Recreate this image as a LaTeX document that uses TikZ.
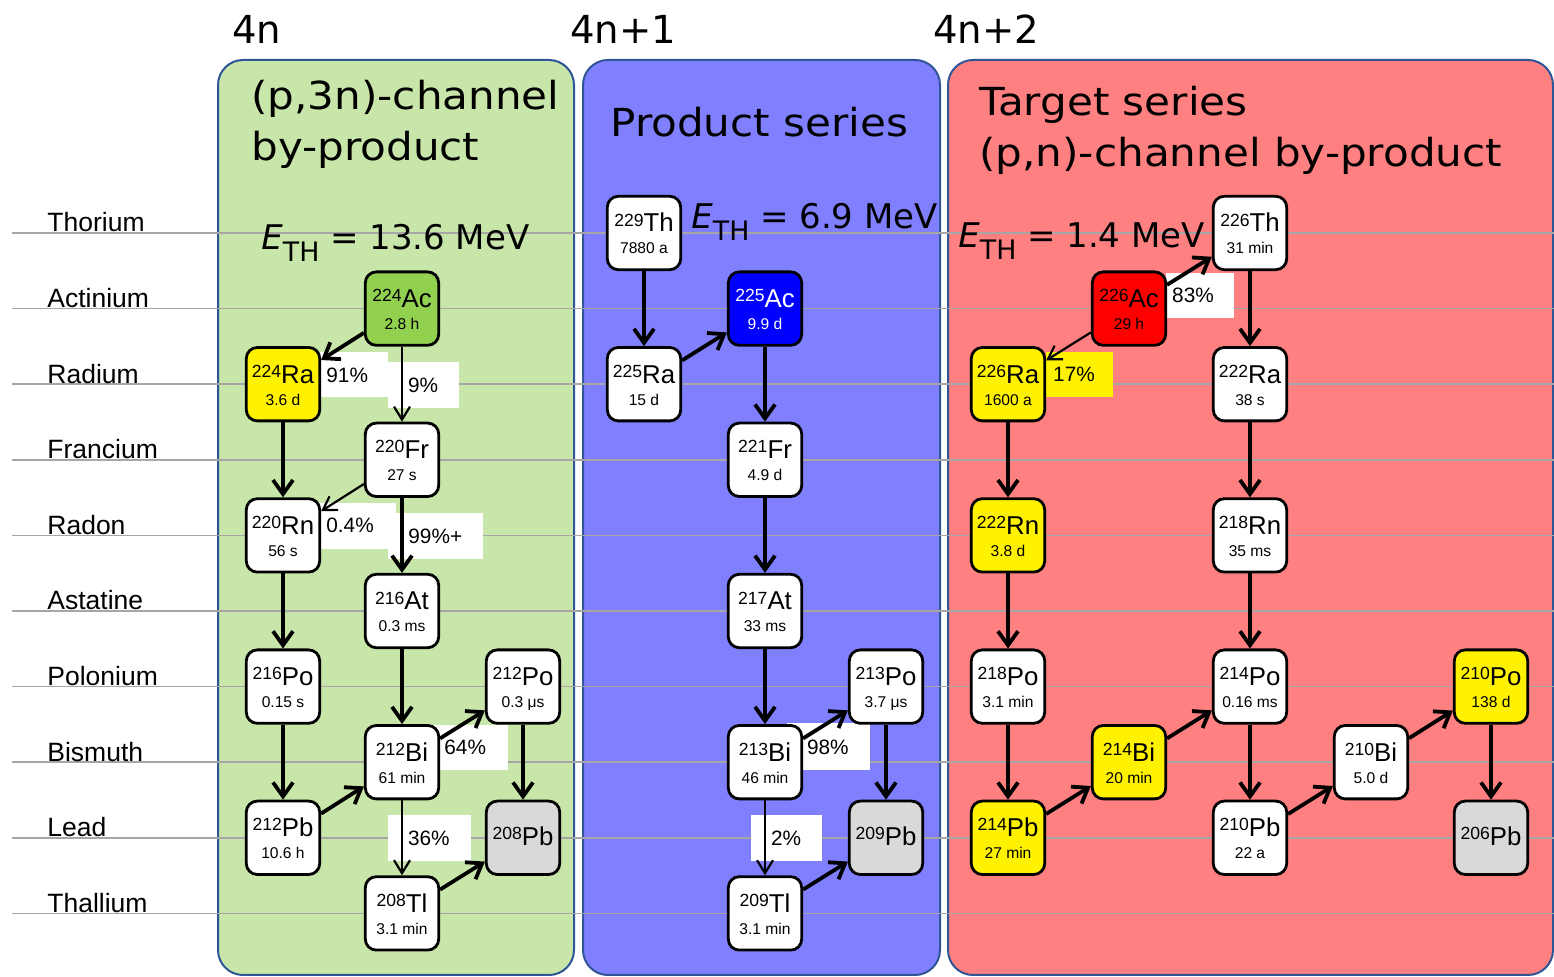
\documentclass[tikz,border=0pt]{standalone}
\usepackage{fontspec}
\setmainfont{Liberation Sans}
\newfontfamily\titlefont{DejaVu Sans}
\newfontfamily\widetitlefont[FakeStretch=1.09]{DejaVu Sans}
\usetikzlibrary{arrows.meta}

\definecolor{pgreen}{HTML}{C8E6A9}
\definecolor{pblue}{HTML}{8080FF}
\definecolor{pred}{HTML}{FF8080}
\definecolor{pborder}{HTML}{2F5597}
\definecolor{gridgray}{HTML}{A6A6A6}
\definecolor{acgreen}{HTML}{92D050}
\definecolor{stablegray}{HTML}{D9D9D9}

\tikzset{
  panel/.style={draw=pborder, line width=1pt, rounded corners=12.5pt},
  gridline/.style={draw=gridgray, line width=0.8pt},
  elemlabel/.style={anchor=base west, inner sep=0pt, font=\fontsize{13.25pt}{13.25pt}\selectfont},
  heading/.style={anchor=base west, inner sep=0pt, font=\titlefont\fontsize{19.3pt}{19.3pt}\selectfont},
  paneltitle/.style={anchor=base west, inner sep=0pt, font=\widetitlefont\fontsize{19.3pt}{19.3pt}\selectfont},
  threshold/.style={anchor=base west, inner sep=0pt, font=\titlefont\fontsize{17pt}{17pt}\selectfont},
  isobox/.style={draw=black, line width=1.4pt, rounded corners=5.5pt,
    minimum width=36.7pt, minimum height=36.7pt, inner sep=0pt},
  isosym/.style={anchor=base, inner sep=0pt, font=\fontsize{12.9pt}{12.9pt}\selectfont},
  isohalf/.style={anchor=base, inner sep=0pt, font=\fontsize{7.8pt}{7.8pt}\selectfont},
  pct/.style={anchor=base west, inner sep=0pt, font=\fontsize{10.4pt}{10.4pt}\selectfont},
  decay/.style={line width=1.9pt, -{Straight Barb[length=7pt,width=10pt]}},
  branch/.style={line width=1.1pt, -{Straight Barb[length=6.5pt,width=8pt]}},
}

% isotope box: [text colour]{name}{x}{y}{fill}{mass}{symbol}{half-life}
\newcommand\isotope[8][black]{%
  \node[isobox, fill=#5] (#2) at (#3,#4) {};
  \node[isosym, text=#1] (#2-s) at ([yshift=0.5pt]#2.center)
    {\raisebox{2.95pt}{\fontsize{8.8pt}{8.8pt}\selectfont #6}#7};
  \node[isohalf, text=#1] (#2-h) at ([yshift=-10.5pt]#2.center) {#8};
}
% stable end product: {name}{x}{y}{mass}{symbol}
\newcommand\stable[5]{%
  \node[isobox, fill=stablegray] (#1) at (#2,#3) {};
  \node[isosym] (#1-s) at ([yshift=-4pt]#1.center)
    {\raisebox{2.95pt}{\fontsize{8.8pt}{8.8pt}\selectfont #4}#5};
}
\newcommand\ethr[1]{\textit{E}\raisebox{-6pt}{\fontsize{13.4pt}{13.4pt}\selectfont TH} = #1 MeV}

% columns
\def\cA{283}\def\cB{402}\def\cC{523}
\def\cD{644}\def\cE{765}\def\cF{886}
\def\cG{1008}\def\cH{1129}\def\cI{1250}\def\cJ{1371}\def\cK{1491}
% rows
\def\rTh{233}\def\rAc{308.6}\def\rRa{384.2}\def\rFr{459.8}\def\rRn{535.4}
\def\rAt{611}\def\rPo{686.6}\def\rBi{762.2}\def\rPb{837.8}\def\rTl{913.4}

\begin{document}
\begin{tikzpicture}[x=0.5pt,y=-0.5pt]
\useasboundingbox (0,0) rectangle (1554,977);
\clip (0,0) rectangle (1554,977);

% series panels
\draw[panel, fill=pgreen] (218,60) rectangle (574,975);
\draw[panel, fill=pblue]  (583,60) rectangle (940,975);
\draw[panel, fill=pred]   (948,60) rectangle (1553,975);

% element rows
\foreach \r/\name/\lab in {\rTh/Thorium/lTh, \rAc/Actinium/lAc, \rRa/Radium/lRa,
    \rFr/Francium/lFr, \rRn/Radon/lRn, \rAt/Astatine/lAt, \rPo/Polonium/lPo,
    \rBi/Bismuth/lBi, \rPb/Lead/lPb, \rTl/Thallium/lTl}{
  \draw[gridline] (12,\r) -- (1554,\r);
  \node[elemlabel] (\lab) at (47,\r-1) {\name};
}

% headings
\node[heading] (h4n)  at (232,44) {4n};
\node[heading] (h4n1) at (570,44) {4n+1};
\node[heading] (h4n2) at (933,44) {4n+2};
\node[paneltitle] (tg1) at (251,110) {(p,3n)-channel};
\node[paneltitle] (tg2) at (251,161) {by-product};
\node[paneltitle] (tb1) at (610,137) {Product series};
\node[paneltitle] (tr1) at (979,116) {Target series};
\node[paneltitle] (tr2) at (979,167) {(p,n)-channel by-product};

% threshold energies
\node[threshold] (eg) at (261,250) {\ethr{13.6}};
\node[threshold] (eb) at (691,229) {\ethr{6.9}};
\node[threshold] (er) at (958,248) {\ethr{1.4}};

% branching-ratio backgrounds
\fill[white] (320,352) rectangle (388,397);
\fill[white] (388,362) rectangle (459,408);
\fill[white] (320,503) rectangle (396,549);
\fill[white] (388,513) rectangle (483,559);
\fill[white] (425,725) rectangle (508,770);
\fill[white] (388,815) rectangle (471,861);
\fill[white] (787,723) rectangle (870,770);
\fill[white] (751,815) rectangle (822,861);
\fill[white] (1166,273) rectangle (1234,318);
\fill[yellow] (1046,352) rectangle (1113,397);

% 4n series
\isotope{ac224}{\cB}{\rAc}{acgreen}{224}{Ac}{2.8 h}
\isotope{ra224}{\cA}{\rRa}{yellow}{224}{Ra}{3.6 d}
\isotope{fr220}{\cB}{\rFr}{white}{220}{Fr}{27 s}
\isotope{rn220}{\cA}{\rRn}{white}{220}{Rn}{56 s}
\isotope{at216}{\cB}{\rAt}{white}{216}{At}{0.3 ms}
\isotope{po216}{\cA}{\rPo}{white}{216}{Po}{0.15 s}
\isotope{po212}{\cC}{\rPo}{white}{212}{Po}{0.3 μs}
\isotope{bi212}{\cB}{\rBi}{white}{212}{Bi}{61 min}
\isotope{pb212}{\cA}{\rPb}{white}{212}{Pb}{10.6 h}
\stable{pb208}{\cC}{\rPb}{208}{Pb}
\isotope{tl208}{\cB}{\rTl}{white}{208}{Tl}{3.1 min}

% 4n+1 series
\isotope{th229}{\cD}{\rTh}{white}{229}{Th}{7880 a}
\isotope[white]{ac225}{\cE}{\rAc}{blue}{225}{Ac}{9.9 d}
\isotope{ra225}{\cD}{\rRa}{white}{225}{Ra}{15 d}
\isotope{fr221}{\cE}{\rFr}{white}{221}{Fr}{4.9 d}
\isotope{at217}{\cE}{\rAt}{white}{217}{At}{33 ms}
\isotope{po213}{\cF}{\rPo}{white}{213}{Po}{3.7 μs}
\isotope{bi213}{\cE}{\rBi}{white}{213}{Bi}{46 min}
\stable{pb209}{\cF}{\rPb}{209}{Pb}
\isotope{tl209}{\cE}{\rTl}{white}{209}{Tl}{3.1 min}

% 4n+2 series
\isotope{th226}{\cI}{\rTh}{white}{226}{Th}{31 min}
\isotope{ac226}{\cH}{\rAc}{red}{226}{Ac}{29 h}
\isotope{ra226}{\cG}{\rRa}{yellow}{226}{Ra}{1600 a}
\isotope{ra222}{\cI}{\rRa}{white}{222}{Ra}{38 s}
\isotope{rn222}{\cG}{\rRn}{yellow}{222}{Rn}{3.8 d}
\isotope{rn218}{\cI}{\rRn}{white}{218}{Rn}{35 ms}
\isotope{po218}{\cG}{\rPo}{white}{218}{Po}{3.1 min}
\isotope{po214}{\cI}{\rPo}{white}{214}{Po}{0.16 ms}
\isotope{po210}{\cK}{\rPo}{yellow}{210}{Po}{138 d}
\isotope{bi214}{\cH}{\rBi}{yellow}{214}{Bi}{20 min}
\isotope{bi210}{\cJ}{\rBi}{white}{210}{Bi}{5.0 d}
\isotope{pb214}{\cG}{\rPb}{yellow}{214}{Pb}{27 min}
\isotope{pb210}{\cI}{\rPb}{white}{210}{Pb}{22 a}
\stable{pb206}{\cK}{\rPb}{206}{Pb}

% decays, 4n
\draw[decay]  (ac224) -- (ra224);
\draw[branch] (ac224) -- (fr220);
\draw[decay]  (ra224) -- (rn220);
\draw[branch] (fr220) -- (rn220);
\draw[decay]  (fr220) -- (at216);
\draw[decay]  (rn220) -- (po216);
\draw[decay]  (at216) -- (bi212);
\draw[decay]  (po216) -- (pb212);
\draw[decay]  (pb212) -- (bi212);
\draw[decay]  (bi212) -- (po212);
\draw[branch] (bi212) -- (tl208);
\draw[decay]  (po212) -- (pb208);
\draw[decay]  (tl208) -- (pb208);

% decays, 4n+1
\draw[decay]  (th229) -- (ra225);
\draw[decay]  (ra225) -- (ac225);
\draw[decay]  (ac225) -- (fr221);
\draw[decay]  (fr221) -- (at217);
\draw[decay]  (at217) -- (bi213);
\draw[decay]  (bi213) -- (po213);
\draw[branch] (bi213) -- (tl209);
\draw[decay]  (po213) -- (pb209);
\draw[decay]  (tl209) -- (pb209);

% decays, 4n+2
\draw[decay]  (ac226) -- (th226);
\draw[branch] (ac226) -- (ra226);
\draw[decay]  (th226) -- (ra222);
\draw[decay]  (ra226) -- (rn222);
\draw[decay]  (ra222) -- (rn218);
\draw[decay]  (rn222) -- (po218);
\draw[decay]  (rn218) -- (po214);
\draw[decay]  (po218) -- (pb214);
\draw[decay]  (pb214) -- (bi214);
\draw[decay]  (bi214) -- (po214);
\draw[decay]  (po214) -- (pb210);
\draw[decay]  (pb210) -- (bi210);
\draw[decay]  (bi210) -- (po210);
\draw[decay]  (po210) -- (pb206);

% branching ratios
\node[pct] (b91) at (326,382.7) {91\%};
\node[pct] (b9)  at (407.7,392.7) {9\%};
\node[pct] (b04) at (326,533) {0.4\%};
\node[pct] (b99) at (408,544) {99\%+};
\node[pct] (b64) at (444,755) {64\%};
\node[pct] (b36) at (407.7,845.7) {36\%};
\node[pct] (b98) at (806.7,755) {98\%};
\node[pct] (b2)  at (770.7,845.7) {2\%};
\node[pct] (b83) at (1171.8,302.3) {83\%};
\node[pct] (b17) at (1052.8,381.7) {17\%};
\end{tikzpicture}
\end{document}
